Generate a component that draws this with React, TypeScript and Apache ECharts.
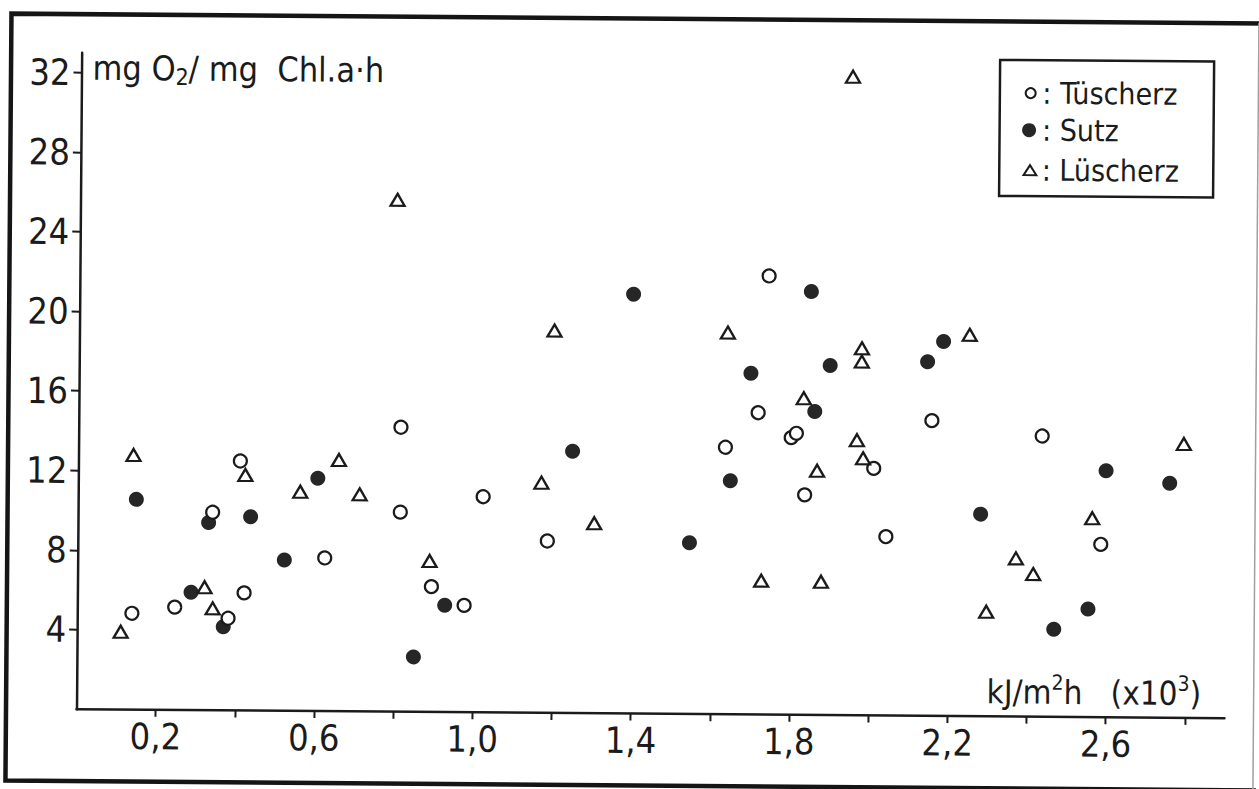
import React, { useEffect, useRef } from "react";
import * as echarts from "echarts";

// x: kJ/m²h (×10³), y: mg O2 / mg Chl.a·h
const tuscherz: [number, number][] = [
  [0.138, 4.84], [0.246, 5.17], [0.340, 9.95], [0.381, 4.63], [0.409, 12.54],
  [0.421, 5.91], [0.624, 7.70], [0.814, 14.30], [0.814, 10.03], [0.894, 6.30],
  [0.977, 5.37], [1.023, 10.84], [1.186, 8.64], [1.634, 13.42], [1.716, 15.17],
  [1.741, 22.05], [1.800, 13.93], [1.813, 14.15], [1.835, 11.06], [2.009, 12.42],
  [2.041, 8.99], [2.155, 14.84], [2.434, 14.11], [2.584, 8.69],
];

const sutz: [number, number][] = [
  [0.147, 10.57], [0.287, 5.92], [0.330, 9.43], [0.369, 4.20], [0.436, 9.74],
  [0.522, 7.58], [0.605, 11.70], [0.850, 2.76], [0.928, 5.37], [1.248, 13.16],
  [1.399, 21.08], [1.545, 8.61], [1.647, 11.74], [1.697, 17.15], [1.848, 21.28],
  [1.859, 15.25], [1.897, 17.57], [2.143, 17.80], [2.183, 18.82], [2.280, 10.16],
  [2.467, 4.40], [2.553, 5.43], [2.596, 12.39], [2.757, 11.79],
];

const luscherz: [number, number][] = [
  [0.110, 3.91], [0.139, 12.80], [0.321, 6.18], [0.342, 5.12], [0.422, 11.84],
  [0.561, 11.02], [0.658, 12.63], [0.711, 10.91], [0.801, 25.73], [0.889, 7.59],
  [1.170, 11.57], [1.200, 19.22], [1.304, 9.55], [1.638, 19.19], [1.727, 6.73],
  [1.831, 15.92], [1.866, 12.28], [1.878, 6.70], [1.949, 32.10], [1.966, 13.83],
  [1.982, 12.92], [1.977, 18.45], [1.977, 17.78], [2.249, 19.17], [2.296, 5.26],
  [2.370, 7.95], [2.414, 7.17], [2.562, 10.00], [2.792, 13.77],
];

const xTickValues = [0.2, 0.4, 0.6, 0.8, 1.0, 1.2, 1.4, 1.6, 1.8, 2.0, 2.2, 2.4, 2.6, 2.8];
const xLabelValues = [0.2, 0.6, 1.0, 1.4, 1.8, 2.2, 2.6];
const yTickValues = [4, 8, 12, 16, 20, 24, 28, 32];
const seriesNames = ["Tüscherz", "Sutz", "Lüscherz"];

const INK = "#1b1b1b";
const NUM_FONT = "'Liberation Sans Narrow', 'DejaVu Sans Condensed', 'Liberation Sans', sans-serif";
const TXT_FONT = "'DejaVu Sans Condensed', 'DejaVu Sans', sans-serif";

export default function App() {
  const ref = useRef<HTMLDivElement>(null);

  useEffect(() => {
    if (!ref.current) return;
    const chart = echarts.init(ref.current, null, { renderer: "svg" });

    const legendRows = [90, 127, 167];

    chart.setOption({
      animation: false,
      backgroundColor: "#ffffff",
      grid: { left: 79, top: 57, width: 1148, height: 656.5, containLabel: false },
      xAxis: {
        type: "value",
        min: 0,
        max: 2.9,
        axisLine: { show: true, onZero: false, lineStyle: { color: INK, width: 2.5 } },
        axisTick: { show: true, customValues: xTickValues, length: 7, lineStyle: { color: INK, width: 2 } },
        axisLabel: {
          customValues: xLabelValues,
          formatter: (v: number) => v.toFixed(1).replace(".", ","),
          color: INK,
          fontSize: 36,
          fontFamily: NUM_FONT,
          margin: 9,
        },
        splitLine: { show: false },
      },
      yAxis: {
        type: "value",
        min: 0,
        max: 33,
        axisLine: { show: true, onZero: false, lineStyle: { color: INK, width: 2.5 } },
        axisTick: { show: true, customValues: yTickValues, length: 8, lineStyle: { color: INK, width: 2 } },
        axisLabel: {
          customValues: yTickValues,
          color: INK,
          fontSize: 36,
          fontFamily: NUM_FONT,
          margin: 11,
        },
        splitLine: { show: false },
      },
      series: [
        {
          name: seriesNames[0],
          type: "scatter",
          data: tuscherz,
          symbol: "circle",
          symbolSize: 13,
          z: 3,
          silent: true,
          itemStyle: { color: "#ffffff", borderColor: INK, borderWidth: 2.2, opacity: 1 },
        },
        {
          name: seriesNames[1],
          type: "scatter",
          data: sutz,
          symbol: "circle",
          symbolSize: 15,
          z: 2,
          silent: true,
          itemStyle: { color: "#262626", opacity: 1 },
        },
        {
          name: seriesNames[2],
          type: "scatter",
          data: luscherz,
          symbol: "triangle",
          symbolSize: [14, 12],
          z: 4,
          silent: true,
          itemStyle: { color: "rgba(255,255,255,0)", borderColor: INK, borderWidth: 2.3, opacity: 1 },
        },
      ],
      graphic: [
        {
          type: "polyline",
          silent: true,
          shape: { points: [[1265, 18.5], [8.5, 18.5], [8.5, 785.5], [1265, 785.5]] },
          style: { stroke: "#151515", lineWidth: 4.5, fill: "none" },
        },
        {
          type: "line",
          silent: true,
          shape: { x1: 1256, y1: 18, x2: 1256, y2: 786 },
          style: { stroke: "#a0a0a0", lineWidth: 1.5 },
        },
        {
          type: "text",
          silent: true,
          x: 90,
          y: 72,
          style: {
            text: "{a|mg O}{s|2}{a|/ mg  Chl.a·h}",
            fill: INK,
            verticalAlign: "middle",
            align: "left",
            rich: {
              a: { fontSize: 34, fontFamily: TXT_FONT, lineHeight: 40, fill: INK },
              s: { fontSize: 23, fontFamily: TXT_FONT, lineHeight: 17, verticalAlign: "bottom", fill: INK },
            },
          },
        },
        {
          type: "text",
          silent: true,
          x: 989,
          y: 689,
          style: {
            text: "{a|kJ/m}{p|2}{a|h   (x10}{p|3}{a|)}",
            fill: INK,
            verticalAlign: "middle",
            align: "left",
            rich: {
              a: { fontSize: 33, fontFamily: TXT_FONT, lineHeight: 40, fill: INK },
              p: { fontSize: 21, fontFamily: TXT_FONT, lineHeight: 20, verticalAlign: "top", fill: INK },
            },
          },
        },
        {
          type: "rect",
          silent: true,
          shape: { x: 997.5, y: 57, width: 214, height: 136 },
          style: { stroke: INK, lineWidth: 2.5, fill: "#ffffff" },
        },
        {
          type: "circle",
          silent: true,
          shape: { cx: 1028.3, cy: legendRows[0], r: 5 },
          style: { stroke: INK, lineWidth: 2, fill: "#ffffff" },
        },
        {
          type: "circle",
          silent: true,
          shape: { cx: 1027, cy: legendRows[1], r: 7 },
          style: { fill: "#262626" },
        },
        {
          type: "polygon",
          silent: true,
          shape: {
            points: [
              [1021.8, legendRows[2] + 5],
              [1034.6, legendRows[2] + 5],
              [1028.2, legendRows[2] - 5],
            ],
          },
          style: { stroke: INK, lineWidth: 2, fill: "none" },
        },
        ...seriesNames.map((name, i) => ({
          type: "text",
          silent: true,
          x: 1040,
          y: legendRows[i],
          style: {
            text: ": " + name,
            fill: INK,
            fontSize: 30,
            fontFamily: TXT_FONT,
            verticalAlign: "middle",
            align: "left",
          },
        })),
      ],
    });

    return () => chart.dispose();
  }, []);

  return (
    <>
      <style>{`html,body{margin:0;padding:0;overflow:hidden;background:#ffffff}`}</style>
      <div
        ref={ref}
        style={{
          position: "absolute",
          left: 0,
          top: 0,
          width: 1259,
          height: 789,
          transform: "rotate(0.45deg)",
          transformOrigin: "50% 50%",
        }}
      />
    </>
  );
}
